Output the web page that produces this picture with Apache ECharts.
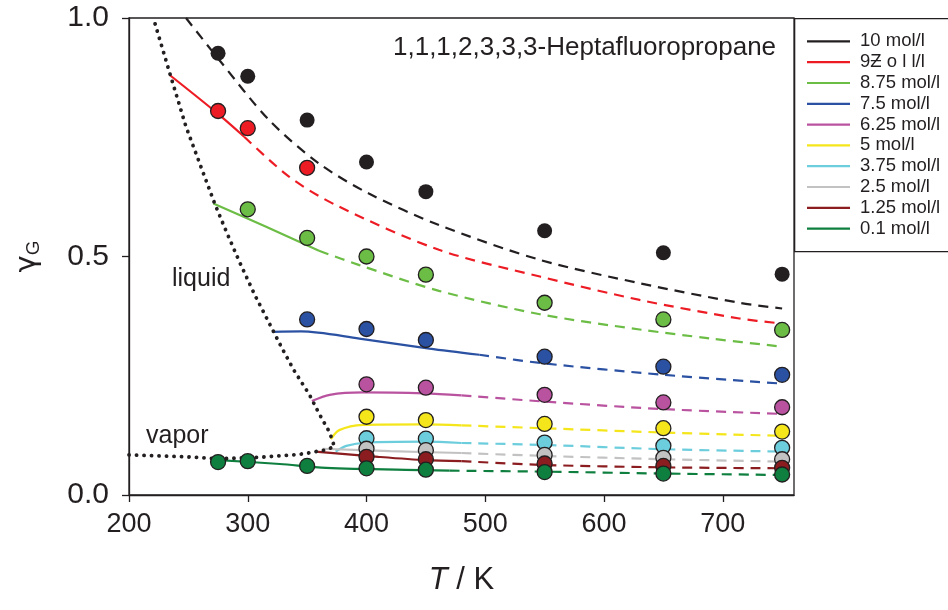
<!DOCTYPE html>
<html>
<head>
<meta charset="utf-8">
<script src="https://cdn.jsdelivr.net/npm/echarts@6/dist/echarts.min.js"></script>
<style>
  html, body { margin: 0; padding: 0; background: #fff; }
  #chart { width: 948px; height: 610px; }
</style>
</head>
<body>
<div id="chart"></div>
<script>
// Concentrations shown in the legend (top to bottom)
const seriesNames = ['10 mol/l', '9Ƶ o l l/l', '8.75 mol/l', '7.5 mol/l', '6.25 mol/l',
                     '5 mol/l', '3.75 mol/l', '2.5 mol/l', '1.25 mol/l', '0.1 mol/l'];

// Simulation temperatures (K)
const tempsAll = [275, 300, 350, 400, 450, 550, 650, 750];
const tempsHigh = [400, 450, 550, 650, 750];

// Simulated gamma_G values (circles)
const expT = [
  tempsAll,
  [275, 300, 350],
  [300, 350, 400, 450, 550, 650, 750],
  [350, 400, 450, 550, 650, 750],
  tempsHigh, tempsHigh, tempsHigh, tempsHigh, tempsHigh,
  tempsAll
];
const expG = [
  [0.926, 0.878, 0.786, 0.698, 0.636, 0.554, 0.508, 0.463],
  [0.805, 0.769, 0.686],
  [0.599, 0.539, 0.500, 0.462, 0.403, 0.368, 0.346],
  [0.368, 0.348, 0.325, 0.290, 0.269, 0.252],
  [0.232, 0.225, 0.210, 0.194, 0.184],
  [0.164, 0.157, 0.149, 0.140, 0.133],
  [0.119, 0.118, 0.110, 0.103, 0.099],
  [0.097, 0.094, 0.084, 0.078, 0.075],
  [0.080, 0.075, 0.066, 0.061, 0.057],
  [0.069, 0.071, 0.061, 0.056, 0.053, 0.048, 0.045, 0.043]
];

// Model curves: solid part (inside validity range) and dashed continuation, [T, gamma]
const solidCurves = [
  [],
  [[234.5, 0.880], [274, 0.801], [297, 0.751]],
  [[271, 0.611], [315, 0.563], [360, 0.512]],
  [[321, 0.342], [345, 0.343], [394, 0.328], [453, 0.307], [495, 0.294]],
  [[354, 0.197], [369, 0.210], [397, 0.215], [449, 0.213], [480, 0.209]],
  [[370, 0.117], [377, 0.136], [397, 0.147], [449, 0.148], [480, 0.146]],
  [[374, 0.091], [383, 0.103], [400, 0.110], [449, 0.112], [480, 0.109]],
  [[363, 0.097], [420, 0.092], [480, 0.088]],
  [[357, 0.091], [410, 0.080], [450, 0.073], [480, 0.071]],
  [[276, 0.073], [327, 0.065], [366, 0.057], [450, 0.052], [470, 0.051]]
];
const dashedCurves = [
  [[248, 1.0], [276, 0.912], [318, 0.786], [360, 0.695], [402, 0.632], [461, 0.566],
   [546, 0.493], [630, 0.444], [714, 0.403], [750, 0.391]],
  [[297, 0.751], [335, 0.667], [374, 0.608], [461, 0.514], [546, 0.458], [630, 0.409],
   [714, 0.370], [748, 0.360]],
  [[360, 0.512], [394, 0.482], [461, 0.428], [546, 0.379], [630, 0.347], [690, 0.328], [750, 0.311]],
  [[495, 0.294], [549, 0.276], [650, 0.252], [747, 0.234]],
  [[480, 0.209], [549, 0.196], [650, 0.180], [750, 0.170]],
  [[480, 0.146], [549, 0.140], [650, 0.131], [750, 0.124]],
  [[480, 0.109], [549, 0.105], [650, 0.096], [750, 0.091]],
  [[480, 0.088], [549, 0.082], [650, 0.075], [750, 0.070]],
  [[480, 0.071], [549, 0.063], [650, 0.058], [750, 0.056]],
  [[470, 0.051], [549, 0.049], [650, 0.045], [750, 0.042]]
];

// Saturation boundary: vapor branch up to the critical point, then liquid branch
const vaporBranch = [[200, 0.084], [248, 0.080], [276, 0.076], [310, 0.079], [338, 0.084],
                     [349, 0.087], [357, 0.091], [363, 0.093], [373, 0.101]];
const liquidBranch = [[369, 0.131], [360, 0.171], [352, 0.210], [339, 0.261], [329, 0.307],
                      [321, 0.346], [306, 0.419], [293, 0.489], [282, 0.552], [272, 0.612],
                      [269, 0.632], [248, 0.772], [234, 0.887], [220.5, 1.0]];

// Axis ticks
const xTicks = [200, 300, 400, 500, 600, 700];
const yTicks = [0.0, 0.5, 1.0];

const lineColors = ['#231f20', '#ed1c24', '#6cbd45', '#2b51a3', '#b9529f',
                    '#f4e61a', '#6ccddd', '#c2c2c2', '#8b1c1f', '#0e7f3f'];

const FONT = 'Liberation Sans, Arial, Helvetica, sans-serif';
const INK = '#231f20';

const series = [];
seriesNames.forEach((name, i) => {
  const color = lineColors[i];
  if (solidCurves[i].length) {
    series.push({
      name, type: 'line', data: solidCurves[i], showSymbol: false, smooth: 0.3,
      lineStyle: { color, width: 2.2 }, z: 3, silent: true
    });
  }
  series.push({
    name, type: 'line', data: dashedCurves[i], showSymbol: false, smooth: 0.3,
    lineStyle: { color, width: 2.2, type: [10, 7] }, z: 3, silent: true
  });
  series.push({
    name, type: 'scatter', data: expT[i].map((t, k) => [t, expG[i][k]]),
    symbol: 'circle', symbolSize: 15, z: 5,
    itemStyle: { color, borderColor: INK, borderWidth: i === 0 ? 0 : 1.3, opacity: 1 }
  });
});

series.push({
  name: 'boundary', type: 'line', data: vaporBranch.concat(liquidBranch),
  showSymbol: false, smooth: false, z: 4, silent: true,
  lineStyle: { color: INK, width: 3.8, type: [0.1, 7.4], cap: 'round' }
});

const chart = echarts.init(document.getElementById('chart'), null, { renderer: 'canvas' });
chart.setOption({
  animation: false,
  backgroundColor: '#fff',
  textStyle: { fontFamily: FONT },
  grid: {
    left: 129, right: 154, top: 18, bottom: 115,
    show: true, borderColor: INK, borderWidth: 1.3, backgroundColor: 'transparent'
  },
  title: {
    text: '1,1,1,2,3,3,3-Heptafluoropropane',
    left: 393, top: 35, padding: 0,
    textStyle: { fontFamily: FONT, fontSize: 26, fontWeight: 'normal', color: INK }
  },
  legend: {
    orient: 'vertical', left: 807, top: 31, padding: 0, itemGap: 0,
    itemWidth: 43, itemHeight: 2.2, icon: 'rect',
    data: seriesNames.map((n, i) => ({ name: n, icon: 'rect', itemStyle: { color: lineColors[i], borderWidth: 0 } })),
    textStyle: { fontFamily: FONT, fontSize: 18.5, color: INK, lineHeight: 20.8, padding: [0, 0, 0, 5] },
    selectedMode: false
  },
  xAxis: {
    type: 'value', min: 200, max: 760, interval: 100,
    name: '{i|T} / K', nameLocation: 'middle', nameGap: 70,
    nameTextStyle: {
      fontFamily: FONT, fontSize: 31, color: INK,
      rich: { i: { fontFamily: FONT, fontSize: 31, fontStyle: 'italic', color: INK } }
    },
    axisLine: { show: true, lineStyle: { color: INK, width: 1.3 } },
    axisTick: { show: true, inside: false, length: 7, lineStyle: { color: INK, width: 1.3 } },
    axisLabel: {
      fontFamily: FONT, fontSize: 27, color: INK, margin: 16,
      showMaxLabel: false,
      formatter: v => (xTicks.indexOf(v) >= 0 ? String(v) : '')
    },
    splitLine: { show: false }
  },
  yAxis: {
    type: 'value', min: 0, max: 1, interval: 0.5,
    name: '{g|γ}{s|G}', nameLocation: 'middle', nameGap: 86, nameRotate: 90,
    nameTextStyle: {
      color: INK,
      rich: {
        g: { fontFamily: 'DejaVu Sans, ' + FONT, fontSize: 29, color: INK },
        s: { fontFamily: FONT, fontSize: 19, color: INK, padding: [12, 0, 0, 0] }
      }
    },
    axisLine: { show: true, lineStyle: { color: INK, width: 1.3 } },
    axisTick: { show: true, inside: false, length: 7, lineStyle: { color: INK, width: 1.3 } },
    axisLabel: {
      fontFamily: FONT, fontSize: 30, color: INK, margin: 20,
      formatter: v => (yTicks.indexOf(v) >= 0 ? v.toFixed(1) : '')
    },
    splitLine: { show: false }
  },
  graphic: [
    {
      type: 'rect', left: 794, top: 18, z: 10, silent: true,
      shape: { width: 170, height: 233 },
      style: { fill: 'transparent', stroke: INK, lineWidth: 1.3 }
    },
    {
      type: 'text', left: 172, top: 267, z: 10, silent: true,
      style: { text: 'liquid', fill: INK, font: '25px ' + FONT }
    },
    {
      type: 'text', left: 146, top: 424, z: 10, silent: true,
      style: { text: 'vapor', fill: INK, font: '25px ' + FONT }
    }
  ],
  series
});
</script>
</body>
</html>
